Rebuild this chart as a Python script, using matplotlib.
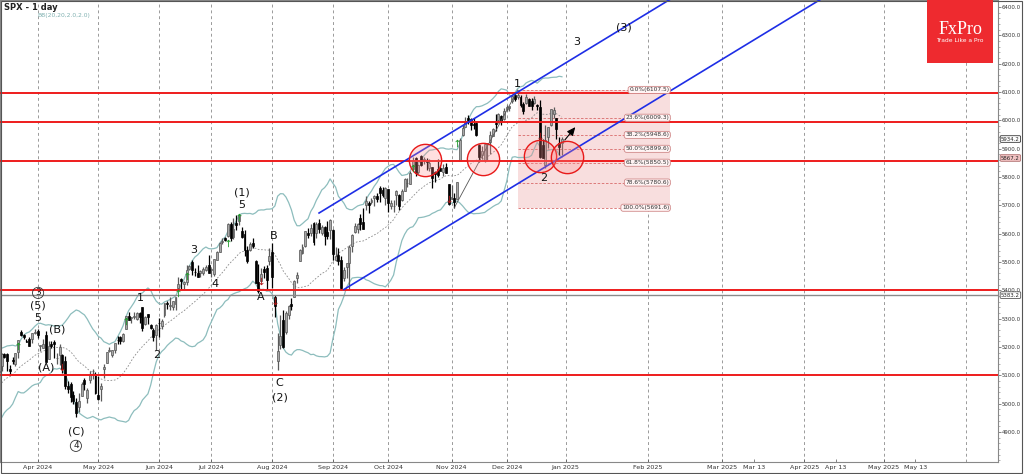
import matplotlib
matplotlib.use('Agg')
import matplotlib.pyplot as plt
import matplotlib.transforms as mtransforms
from matplotlib.patches import Rectangle
import numpy as np

# ---------------- data ----------------
month_days = {
    '2024-03': [11, 12, 13, 14, 15, 18, 19, 20, 21, 22, 25, 26, 27, 28],
    '2024-04': [1, 2, 3, 4, 5, 8, 9, 10, 11, 12, 15, 16, 17, 18, 19, 22, 23, 24, 25, 26, 29, 30],
    '2024-05': [1, 2, 3, 6, 7, 8, 9, 10, 13, 14, 15, 16, 17, 20, 21, 22, 23, 24, 28, 29, 30, 31],
    '2024-06': [3, 4, 5, 6, 7, 10, 11, 12, 13, 14, 17, 18, 20, 21, 24, 25, 26, 27, 28],
    '2024-07': [1, 2, 3, 5, 8, 9, 10, 11, 12, 15, 16, 17, 18, 19, 22, 23, 24, 25, 26, 29, 30, 31],
    '2024-08': [1, 2, 5, 6, 7, 8, 9, 12, 13, 14, 15, 16, 19, 20, 21, 22, 23, 26, 27, 28, 29, 30],
    '2024-09': [3, 4, 5, 6, 9, 10, 11, 12, 13, 16, 17, 18, 19, 20, 23, 24, 25, 26, 27, 30],
    '2024-10': [1, 2, 3, 4, 7, 8, 9, 10, 11, 14, 15, 16, 17, 18, 21, 22, 23, 24, 25, 28, 29, 30, 31],
    '2024-11': [1, 4, 5, 6, 7, 8, 11, 12, 13, 14, 15, 18, 19, 20, 21, 22, 25, 26, 27, 29],
    '2024-12': [2, 3, 4, 5, 6, 9, 10, 11, 12, 13, 16, 17, 18, 19, 20, 23, 24, 26, 27, 30, 31],
}
dates = [f"{m}-{d:02d}" for m, ds in month_days.items() for d in ds]

opens = [
    5111, 5134, 5174, 5175, 5124, 5155, 5139, 5182, 5254, 5243, 5219, 5228, 5227, 5249,
    5258, 5204, 5195, 5244, 5158, 5211, 5217, 5160, 5172, 5172, 5149, 5064, 5068, 5032, 5005, 4988, 5028, 5085, 5019, 5085, 5114, 5103,
    5029, 5050, 5123, 5142, 5187, 5173, 5189, 5225, 5234, 5221, 5264, 5310, 5303, 5305, 5298, 5320, 5341, 5282, 5315, 5278, 5259, 5244,
    5284, 5275, 5314, 5357, 5343, 5341, 5353, 5410, 5441, 5423, 5431, 5476, 5499, 5466, 5460, 5460, 5461, 5473, 5488,
    5471, 5457, 5507, 5537, 5572, 5584, 5591, 5635, 5590, 5638, 5644, 5610, 5600, 5544, 5544, 5566, 5505, 5429, 5434, 5477, 5479, 5505,
    5537, 5376, 5151, 5206, 5294, 5253, 5312, 5351, 5376, 5442, 5503, 5531, 5558, 5602, 5604, 5637, 5603, 5639, 5602, 5625, 5607, 5612,
    5612, 5506, 5524, 5507, 5443, 5483, 5496, 5557, 5605, 5615, 5655, 5641, 5703, 5709, 5711, 5727, 5733, 5762, 5756, 5726,
    5758, 5698, 5698, 5737, 5737, 5719, 5752, 5778, 5775, 5829, 5866, 5817, 5875, 5860, 5857, 5833, 5834, 5818, 5827, 5833, 5818, 5835, 5775,
    5724, 5725, 5722, 5856, 5947, 5977, 6009, 6004, 5986, 5990, 5913, 5877, 5860, 5917, 5922, 5944, 5992, 6001, 6014, 6004,
    6040, 6042, 6069, 6090, 6081, 6083, 6057, 6060, 6074, 6069, 6063, 6053, 6048, 5912, 5842, 5940, 5984, 6024, 6007, 5921, 5920,
]
highs = [
    5124, 5179, 5180, 5179, 5137, 5164, 5179, 5225, 5261, 5246, 5229, 5236, 5249, 5264,
    5263, 5208, 5229, 5256, 5222, 5220, 5224, 5178, 5211, 5175, 5168, 5079, 5077, 5046, 5019, 5038, 5076, 5089, 5057, 5114, 5124, 5110,
    5096, 5073, 5140, 5181, 5201, 5191, 5215, 5239, 5238, 5251, 5311, 5325, 5305, 5325, 5324, 5324, 5342, 5311, 5315, 5282, 5268, 5280,
    5302, 5299, 5355, 5362, 5375, 5362, 5376, 5447, 5442, 5432, 5488, 5490, 5506, 5478, 5488, 5472, 5483, 5491, 5524,
    5479, 5510, 5540, 5571, 5584, 5590, 5636, 5642, 5656, 5666, 5667, 5622, 5614, 5557, 5570, 5585, 5508, 5492, 5480, 5487, 5489, 5551,
    5566, 5384, 5250, 5312, 5330, 5326, 5350, 5372, 5436, 5464, 5546, 5564, 5608, 5620, 5633, 5643, 5641, 5652, 5629, 5628, 5646, 5651,
    5616, 5552, 5551, 5522, 5484, 5497, 5561, 5600, 5636, 5637, 5671, 5690, 5733, 5716, 5725, 5736, 5742, 5767, 5765, 5765,
    5758, 5720, 5719, 5753, 5739, 5758, 5797, 5795, 5823, 5871, 5871, 5845, 5878, 5872, 5866, 5863, 5835, 5823, 5862, 5842, 5847, 5850, 5775,
    5772, 5742, 5783, 5937, 5983, 6012, 6018, 6009, 6008, 5993, 5916, 5909, 5920, 5920, 5962, 5973, 6021, 6025, 6020, 6044,
    6053, 6052, 6089, 6099, 6107, 6088, 6066, 6092, 6079, 6078, 6085, 6057, 6071, 5936, 5982, 5978, 6040, 6049, 6007, 5941, 5940,
]
lows = [
    5091, 5115, 5161, 5117, 5105, 5141, 5134, 5161, 5240, 5229, 5216, 5203, 5214, 5245,
    5230, 5185, 5195, 5146, 5157, 5198, 5160, 5139, 5138, 5107, 5053, 5038, 5007, 4999, 4953, 4969, 5027, 5048, 5002, 5073, 5087, 5035,
    5014, 5011, 5091, 5142, 5181, 5166, 5180, 5210, 5211, 5218, 5263, 5296, 5284, 5299, 5297, 5286, 5256, 5278, 5281, 5262, 5222, 5191,
    5234, 5265, 5307, 5335, 5331, 5332, 5331, 5405, 5404, 5403, 5420, 5471, 5455, 5452, 5448, 5446, 5453, 5470, 5460,
    5446, 5452, 5507, 5534, 5564, 5575, 5587, 5575, 5583, 5614, 5631, 5584, 5522, 5497, 5540, 5551, 5426, 5390, 5433, 5444, 5403, 5491,
    5410, 5306, 5119, 5194, 5196, 5246, 5299, 5331, 5376, 5425, 5502, 5530, 5553, 5585, 5592, 5560, 5586, 5602, 5595, 5561, 5583, 5581,
    5507, 5503, 5488, 5402, 5434, 5442, 5406, 5535, 5601, 5604, 5614, 5615, 5683, 5674, 5705, 5698, 5713, 5713, 5728, 5703,
    5677, 5688, 5675, 5703, 5683, 5717, 5751, 5764, 5775, 5829, 5804, 5810, 5840, 5846, 5824, 5822, 5762, 5784, 5800, 5823, 5802, 5813, 5703,
    5723, 5692, 5722, 5856, 5946, 5976, 5986, 5966, 5971, 5945, 5853, 5865, 5853, 5860, 5883, 5945, 5963, 5992, 5984, 6003,
    6034, 6034, 6062, 6070, 6077, 6048, 6024, 6059, 6051, 6035, 6059, 6035, 5867, 5866, 5832, 5903, 5981, 6007, 5933, 5879, 5877,
]
closes = [
    5117, 5175, 5165, 5150, 5117, 5149, 5178, 5224, 5241, 5234, 5218, 5203, 5248, 5254,
    5243, 5205, 5211, 5147, 5204, 5202, 5209, 5160, 5199, 5123, 5061, 5051, 5022, 5011, 4967, 5010, 5070, 5071, 5048, 5100, 5116, 5036,
    5018, 5064, 5128, 5181, 5187, 5188, 5214, 5223, 5221, 5247, 5308, 5297, 5303, 5308, 5321, 5307, 5268, 5305, 5306, 5266, 5235, 5277,
    5283, 5291, 5354, 5352, 5347, 5361, 5375, 5421, 5433, 5431, 5473, 5487, 5473, 5465, 5448, 5469, 5477, 5483, 5460,
    5475, 5509, 5537, 5567, 5572, 5577, 5633, 5585, 5615, 5631, 5667, 5588, 5544, 5505, 5564, 5555, 5427, 5399, 5459, 5464, 5436, 5522,
    5446, 5346, 5186, 5240, 5199, 5319, 5344, 5344, 5434, 5455, 5543, 5554, 5608, 5597, 5621, 5571, 5635, 5616, 5625, 5592, 5592, 5648,
    5528, 5520, 5503, 5408, 5471, 5496, 5554, 5596, 5626, 5633, 5634, 5618, 5714, 5703, 5718, 5732, 5722, 5745, 5738, 5762,
    5709, 5710, 5699, 5751, 5696, 5751, 5792, 5780, 5815, 5859, 5815, 5843, 5841, 5865, 5853, 5851, 5797, 5809, 5808, 5823, 5832, 5813, 5705,
    5729, 5712, 5782, 5929, 5973, 5996, 6001, 5984, 5985, 5949, 5871, 5893, 5917, 5917, 5949, 5969, 5987, 6021, 5999, 6032,
    6047, 6050, 6086, 6075, 6090, 6053, 6034, 6084, 6051, 6051, 6074, 6050, 5872, 5867, 5931, 5975, 6040, 6037, 5971, 5907, 5934,
]
# closes before the visible range (Feb 12 - Mar 8 2024) used to start the Bollinger bands
warmup_closes = [5021, 4953, 5001, 5030, 5006, 4976, 4982, 5087, 5089, 5070, 5078, 5069,
                 5096, 5137, 5131, 5079, 5105, 5157, 5124]

bb_period, bb_dev = 20, 2.0

hlines_red = [6098, 5995, 5858, 5400, 5100]
hline_gray = 5383.2
price_tags = [("5934.2", 5934.2, 'white', '#333333'),
              ("5867.2", 5867.2, '#f3c4c4', '#b07070'),
              ("5383.2", 5383.2, 'white', '#555555')]

fib_low_date, fib_low = '2024-11-04', 5691.6
fib_high_date, fib_high = '2024-12-06', 6107.5
fib_ratios = [0.0, 23.6, 38.2, 50.0, 61.8, 78.6, 100.0]
fib_values = [6107.5, 6009.3, 5948.6, 5899.6, 5850.5, 5780.6, 5691.6]

channel_dates = ['2024-08-26', '2024-09-09']
channel_prices = [5673, 5403]
channel_slope = 5.93  # points per bar

circle_pos = [(154.4, 5860), (175.4, 5864), (196.0, 5874), (205.8, 5871)]

buy_dates = ['2024-03-20', '2024-05-15', '2024-06-12', '2024-06-17', '2024-07-10',
             '2024-07-16', '2024-10-14', '2024-11-05']
buy_prices = [5203, 5292, 5391, 5451, 5567, 5659, 5832, 5920]
sell_dates = ['2024-04-12', '2024-07-26', '2024-08-02', '2024-10-31', '2024-12-18']
sell_prices = [5129, 5433, 5362, 5722, 5945]

wave_labels = [
    ("3", 14.2, 5391, True), ("(5)", 14.2, 5348, False), ("5", 14.2, 5302, False),
    ("(B)", 21.1, 5260, False), ("(A)", 17.1, 5126, False), ("(C)", 27.9, 4900, False),
    ("4", 27.9, 4851, True), ("1", 51.1, 5373, False), ("2", 57.3, 5172, False),
    ("3", 70.7, 5542, False), ("4", 78.3, 5422, False), ("(1)", 88.1, 5744, False),
    ("5", 88.1, 5701, False), ("B", 99.7, 5592, False), ("A", 95.0, 5376, False),
    ("C", 101.5, 5073, False), ("(2)", 101.9, 5020, False), ("1", 187.7, 6128, False),
    ("2", 197.5, 5796, False), ("3", 209.5, 6276, False), ("(3)", 226.5, 6329, False),
]

arrow_start = (204.4, 5923)
arrow_end = (209.5, 5984)

month_labels = ['Apr 2024', 'May 2024', 'Jun 2024', 'Jul 2024', 'Aug 2024', 'Sep 2024',
                'Oct 2024', 'Nov 2024', 'Dec 2024']
month_keys = ['2024-04', '2024-05', '2024-06', '2024-07', '2024-08', '2024-09',
              '2024-10', '2024-11', '2024-12']
future_labels = ['Jan 2025', 'Feb 2025', 'Mar 2025', 'Mar 13', 'Apr 2025', 'Apr 13',
                 'May 2025', 'May 13', '']
future_days = [1, 32, 60, 72, 91, 103, 121, 133, 152]   # calendar days after Dec 31 2024
future_is_month = [True, True, True, False, True, False, True, False, True]

# ---------------- figure ----------------
plt.rcParams['font.family'] = ['DejaVu Sans']
fig = plt.figure(figsize=(10.24, 4.74), dpi=100)
ax = fig.add_axes([0.0, 12 / 474, 998 / 1024, 462 / 474])
ax.set_xlim(0.4, 362.0)
ax.set_ylim(4794, 6425)

n = len(dates)
idx = np.arange(n)
date_index = {d: i for i, d in enumerate(dates)}
o = np.array(opens, float); h = np.array(highs, float)
l = np.array(lows, float); c = np.array(closes, float)

# grid lines at month starts
month_pos = [next(i for i, d in enumerate(dates) if d.startswith(k)) for k in month_keys]
last = n - 1
fut_pos = [last + 0.4 + 0.96 * d for d in future_days]
grid_pos = month_pos + [p for p, m in zip(fut_pos, future_is_month) if m]
for gx in grid_pos:
    ax.axvline(gx, color='#9a9a9a', lw=0.7, ls=(0, (3, 3)), zorder=0)

# fib box
x_fh = date_index[fib_high_date]
x_fl = date_index[fib_low_date]
fib_right = 243.2
ax.add_patch(Rectangle((x_fh, fib_low), fib_right - x_fh, fib_high - fib_low,
                       facecolor='#f8dede', edgecolor='none', zorder=0.5))
for r, v in zip(fib_ratios, fib_values):
    ax.plot([x_fh, fib_right], [v, v], color='#d86a6a', lw=0.6, ls=(0, (3, 2)), zorder=1)
    ax.text(fib_right - 0.3, v, f"{r:.1f}%({v:.1f})", fontsize=4.2, color='#333333',
            ha='right', va='center', zorder=7,
            bbox=dict(boxstyle='round,pad=0.18,rounding_size=0.4', fc='#fff4f4', ec='#d08a8a', lw=0.6))
ax.plot([x_fl, x_fh], [fib_low, fib_high], color='#555555', lw=0.6, zorder=4)

# Bollinger bands
allc = np.array(warmup_closes + closes, float)
w = len(warmup_closes)
mid = np.array([allc[i + w - bb_period + 1:i + w + 1].mean() for i in range(n)])
sd = np.array([allc[i + w - bb_period + 1:i + w + 1].std() for i in range(n)])
ax.plot(idx, mid + bb_dev * sd, color='#8dbdbd', lw=0.9, zorder=2)
ax.plot(idx, mid - bb_dev * sd, color='#8dbdbd', lw=0.9, zorder=2)
ax.plot(idx, mid, color='#8a8a8a', lw=0.6, ls=(0, (2, 2)), zorder=2)

# candles
up = c >= o
wick_col = np.where(up, '#5a5a5a', '#000000')
ax.vlines(idx, l, h, colors=wick_col, lw=0.9, zorder=3)
body_lo = np.minimum(o, c)
body_h = np.maximum(np.abs(c - o), 1.5)
ax.bar(idx[up], body_h[up], bottom=body_lo[up], width=0.7, color='#a8a8a8',
       edgecolor='#555555', linewidth=0.5, zorder=3.1)
ax.bar(idx[~up], body_h[~up], bottom=body_lo[~up], width=0.7, color='#000000',
       edgecolor='#000000', linewidth=0.5, zorder=3.1)

# horizontal levels
for v in hlines_red:
    ax.axhline(v, color='#ee1c1c', lw=1.4, zorder=4)
ax.axhline(hline_gray, color='#8a8a8a', lw=1.0, zorder=4)

# channel
for d, p in zip(channel_dates, channel_prices):
    x0 = date_index[d]
    ax.plot([x0, 400], [p, p + (400 - x0) * channel_slope], color='#1e2ee6', lw=1.2, zorder=4.5)

# circles
for cx, cy in circle_pos:
    ax.scatter([cx], [cy], s=540, facecolor=(1, 0.55, 0.55, 0.28), edgecolor='#e81818',
               linewidth=1.0, zorder=5)

# buy / sell signals
ax.scatter([date_index[d] for d in buy_dates], buy_prices, marker=r'$\uparrow$', s=28,
           color='#1f9a2a', zorder=6, linewidths=0)
ax.scatter([date_index[d] for d in sell_dates], sell_prices, marker=r'$\downarrow$', s=28,
           color='#b01818', zorder=6, linewidths=0)

# wave labels
for t, x, y, circ in wave_labels:
    if circ:
        ax.text(x, y, t, fontsize=6.5, ha='center', va='center', color='#222222', zorder=7,
                bbox=dict(boxstyle='circle,pad=0.12', fc='none', ec='#333333', lw=0.6))
    else:
        ax.text(x, y, t, fontsize=8, ha='center', va='center', color='#111111', zorder=7)

# arrow
ax.annotate('', xy=arrow_end, xytext=arrow_start,
            arrowprops=dict(arrowstyle='-|>,head_length=0.5,head_width=0.22', color='black', lw=0.8),
            zorder=7)

# axes styling
ax.set_xticks(month_pos + fut_pos[:-1])
ax.set_xticklabels(month_labels + future_labels[:-1], fontsize=4.6, color='#333333')
ax.tick_params(axis='x', direction='in', length=2, width=0.5, pad=2, colors='#555555',
               labelcolor='#333333')
ax.yaxis.tick_right()
ax.set_yticks(np.arange(4900, 6401, 100))
ax.set_yticklabels([f"{v:.1f}" for v in np.arange(4900, 6401, 100)], fontsize=3.9, color='#333333')
ax.set_yticks(np.arange(4800, 6421, 20), minor=True)
ax.tick_params(axis='y', which='major', direction='out', length=2.0, width=0.5, pad=0.5, colors='#555555',
               labelcolor='#333333')
ax.tick_params(axis='y', which='minor', direction='out', length=1.2, width=0.4, colors='#777777')
for s in ax.spines.values():
    s.set_color('#888888')
    s.set_linewidth(0.8)

# price tags on the right axis
tr = mtransforms.blended_transform_factory(ax.transAxes, ax.transData)
for t, v, fc, ec in price_tags:
    ax.text(1.003, v, t, transform=tr, fontsize=3.9, ha='left', va='center', color='#222222',
            zorder=8, clip_on=False,
            bbox=dict(boxstyle='round,pad=0.15,rounding_size=0.2', fc=fc, ec=ec, lw=0.6))

# titles
fig.text(4 / 1024, 1 - 7 / 474, 'SPX - 1 day', fontsize=6, fontweight='bold', color='#222222',
         ha='left', va='center')
fig.text(37 / 1024, 1 - 16 / 474, 'BB(20,20,2.0,2.0)', fontsize=4.3, color='#7fb0b0',
         ha='left', va='center')

# logo
fig.patches.append(Rectangle((927 / 1024, 1 - 63 / 474), 66 / 1024, 63 / 474,
                             transform=fig.transFigure, facecolor='#ee2a2f', edgecolor='none',
                             zorder=5))
fig.text(960 / 1024, 1 - 29 / 474, 'FxPro', family='Liberation Serif', fontsize=13,
         color='white', ha='center', va='center', zorder=6)
fig.text(960 / 1024, 1 - 41 / 474, 'Trade Like a Pro', fontsize=4.3, color='white',
         ha='center', va='center', zorder=6)

# outer frame
fig.patches.append(Rectangle((0.5 / 1024, 1.5 / 474), 1021.5 / 1024, 472 / 474,
                             transform=fig.transFigure, facecolor='none', edgecolor='#555555',
                             lw=0.8, zorder=4))

fig.savefig('out.png', dpi=100)
